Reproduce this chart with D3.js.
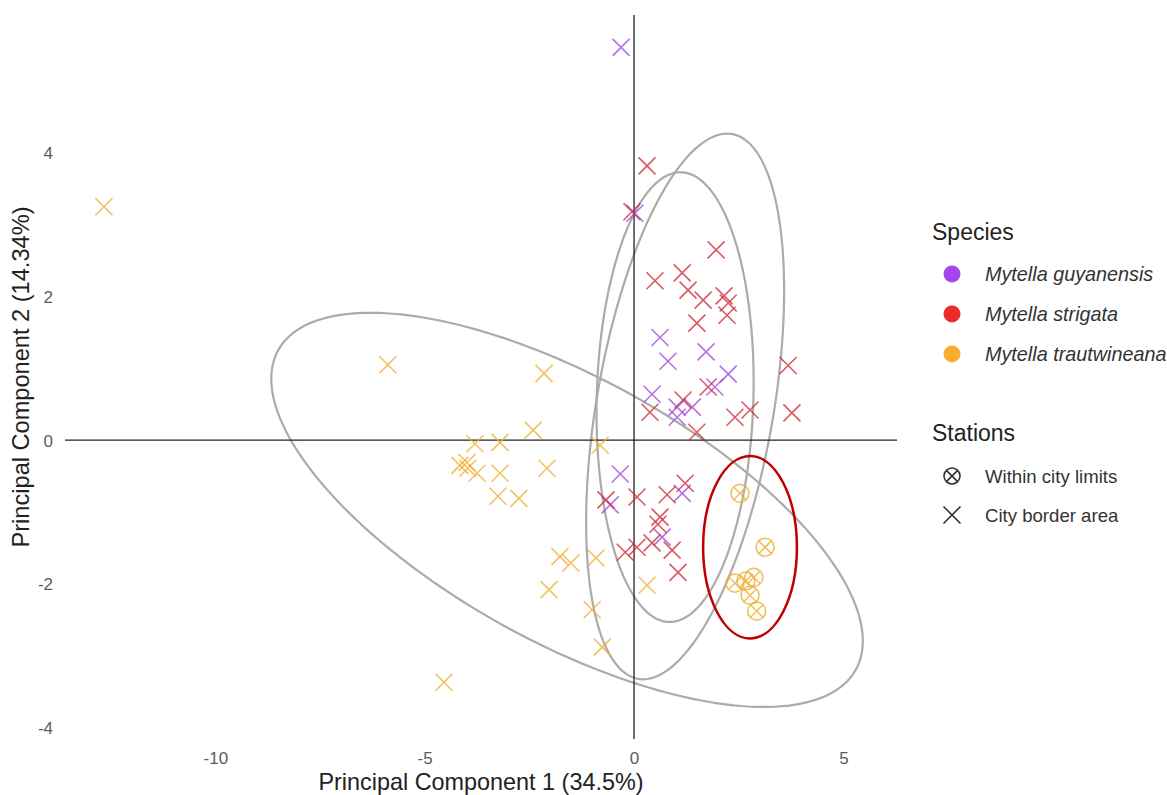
<!DOCTYPE html>
<html>
<head>
<meta charset="utf-8">
<script src="https://cdn.jsdelivr.net/npm/d3@7"></script>
<style>
  html, body { margin: 0; padding: 0; background: #fff; }
  svg { display: block; font-family: "Liberation Sans", Arial, sans-serif; }
</style>
</head>
<body>
<svg id="chart" width="1167" height="795"></svg>
<script>
// PCA scores (PC1, PC2) per specimen
const guyanensisPC1 = [-0.31, 0.02, 0.62, 0.81, 1.72, 2.25, 1.93, 0.43, 1.03, 1.39, 1.03, -0.33, -0.57, 1.15, 0.67];
const guyanensisPC2 = [5.47, 3.16, 1.43, 1.10, 1.23, 0.92, 0.74, 0.64, 0.46, 0.46, 0.32, -0.47, -0.90, -0.74, -1.35];

const strigataPC1 = [0.31, -0.05, 1.96, 0.50, 1.15, 1.29, 1.65, 2.15, 2.25, 2.22, 1.50, 3.68, 1.77, 1.17, 0.38, 2.77, 2.41, 3.77, 1.50,
                     -0.67, 0.07, 0.79, 1.22, 0.62, 0.57, -0.21, 0.07, 0.43, 0.91, 1.05];
const strigataPC2 = [3.82, 3.18, 2.65, 2.22, 2.33, 2.09, 1.95, 2.01, 1.91, 1.74, 1.63, 1.04, 0.74, 0.56, 0.39, 0.42, 0.32, 0.38, 0.11,
                     -0.83, -0.79, -0.76, -0.60, -1.07, -1.17, -1.56, -1.49, -1.43, -1.53, -1.84];

const trautBorderPC1 = [-12.66, -5.88, -2.15, -2.41, -3.80, -3.20, -0.81, -4.16, -3.99, -3.97, -3.75, -3.20, -2.08, -3.25, -2.75,
                        -1.77, -1.51, -0.91, -2.03, -1.00, -0.76, 0.31, -4.54];
const trautBorderPC2 = [3.25, 1.05, 0.93, 0.14, -0.05, -0.03, -0.07, -0.35, -0.31, -0.39, -0.46, -0.46, -0.39, -0.78, -0.81,
                        -1.62, -1.71, -1.64, -2.08, -2.36, -2.88, -2.02, -3.37];
const trautCityPC1 = [2.53, 3.13, 2.41, 2.67, 2.86, 2.77, 2.93];
const trautCityPC2 = [-0.74, -1.49, -1.99, -1.96, -1.91, -2.16, -2.38];

const speciesNames = ["Mytella guyanensis", "Mytella strigata", "Mytella trautwineana"];
const speciesColors = ["#A646EA", "#EE2B2B", "#F8AD2C"];
const markColors = ["#A24FDE", "#D12F3C", "#F0B136"];
const stationNames = ["Within city limits", "City border area"];

// confidence ellipses per species: centre and covariance (PC1, PC2)
const ellipseCentreX = [1.22, 0.98, -1.60];
const ellipseCentreY = [0.47, 0.60, -0.97];
const ellipseVarX = [5.59, 3.52, 49.9];
const ellipseVarY = [14.43, 9.80, 7.53];
const ellipseCov = [3.81, 0.40, -12.89];

// highlighted urban group
const highlightCentre = [2.77, -1.49];
const highlightRadii = [1.12, 1.27];

const xTicks = [-10, -5, 0, 5];
const yTicks = [-4, -2, 0, 2, 4];

const svg = d3.select("#chart");
const x = d3.scaleLinear().domain([-13.59, 6.28]).range([65, 897]);
const y = d3.scaleLinear().domain([-4.16, 5.92]).range([739, 15]);

const tickFmt = d => String(d);

// axes (labels only)
const gx = svg.append("g").attr("transform", "translate(0,739)")
  .call(d3.axisBottom(x).tickValues(xTicks).tickSize(0).tickPadding(13).tickFormat(tickFmt));
const gy = svg.append("g").attr("transform", "translate(55,0)")
  .call(d3.axisLeft(y).tickValues(yTicks).tickSize(0).tickPadding(2).tickFormat(tickFmt));
[gx, gy].forEach(g => {
  g.select(".domain").remove();
  g.selectAll("text").attr("fill", "#5c5c5c").attr("font-size", 17)
    .attr("font-family", "Liberation Sans, Arial, sans-serif");
});
gy.selectAll("text").attr("dy", "0.35em");

// ellipses
const ellipseLine = d3.line().curve(d3.curveLinearClosed);
for (let i = 0; i < ellipseCentreX.length; i++) {
  const a = Math.sqrt(ellipseVarX[i]);
  const b = ellipseCov[i] / a;
  const c = Math.sqrt(ellipseVarY[i] - b * b);
  const pts = d3.range(0, 200).map(k => {
    const t = 2 * Math.PI * k / 200;
    const u = Math.cos(t), v = Math.sin(t);
    return [x(ellipseCentreX[i] + a * u), y(ellipseCentreY[i] + b * u + c * v)];
  });
  svg.append("path").attr("d", ellipseLine(pts))
    .attr("fill", "none").attr("stroke", "#ababab").attr("stroke-width", 2.2);
}

// zero lines
svg.append("line").attr("x1", x.range()[0]).attr("x2", x.range()[1])
  .attr("y1", y(0)).attr("y2", y(0)).attr("stroke", "#222").attr("stroke-width", 1.3);
svg.append("line").attr("x1", x(0)).attr("x2", x(0))
  .attr("y1", y.range()[1]).attr("y2", y.range()[0]).attr("stroke", "#222").attr("stroke-width", 1.3);

// markers
function crossPath(s) {
  return `M${-s},${-s}L${s},${s}M${-s},${s}L${s},${-s}`;
}
function drawCross(g, cx, cy, color, s, op) {
  g.append("path").attr("transform", `translate(${cx},${cy})`).attr("d", crossPath(s))
    .attr("stroke", color).attr("stroke-width", 1.6).attr("fill", "none").attr("opacity", op);
}
function drawCircleCross(g, cx, cy, color, r, op) {
  const m = g.append("g").attr("transform", `translate(${cx},${cy})`).attr("opacity", op);
  m.append("circle").attr("r", r).attr("fill", "none").attr("stroke", color).attr("stroke-width", 1.6);
  m.append("path").attr("d", crossPath(r * 0.707)).attr("stroke", color).attr("stroke-width", 1.6);
}

const pts = svg.append("g");
const groups = [
  [guyanensisPC1, guyanensisPC2, 0],
  [strigataPC1, strigataPC2, 1],
  [trautBorderPC1, trautBorderPC2, 2]
];
groups.forEach(([px, py, s]) => {
  px.forEach((v, i) => drawCross(pts, x(v), y(py[i]), markColors[s], 8.5, 0.8));
});
trautCityPC1.forEach((v, i) => drawCircleCross(pts, x(v), y(trautCityPC2[i]), markColors[2], 9, 0.8));

// highlight ring
svg.append("ellipse")
  .attr("cx", x(highlightCentre[0])).attr("cy", y(highlightCentre[1]))
  .attr("rx", x(highlightCentre[0] + highlightRadii[0]) - x(highlightCentre[0]))
  .attr("ry", y(highlightCentre[1]) - y(highlightCentre[1] + highlightRadii[1]))
  .attr("fill", "none").attr("stroke", "#C00000").attr("stroke-width", 2.5);

// axis titles
svg.append("text").attr("x", (x.range()[0] + x.range()[1]) / 2).attr("y", 790)
  .attr("text-anchor", "middle").attr("font-size", 23.4).attr("fill", "#222")
  .text("Principal Component 1 (34.5%)");
svg.append("text").attr("transform", `translate(29,${(y.range()[0] + y.range()[1]) / 2}) rotate(-90)`)
  .attr("text-anchor", "middle").attr("font-size", 23.6).attr("fill", "#222")
  .text("Principal Component 2 (14.34%)");

// legend
const lg = svg.append("g");
lg.append("text").attr("x", 932).attr("y", 240).attr("font-size", 23).attr("fill", "#222").text("Species");
speciesNames.forEach((n, i) => {
  const cy = 274 + i * 40;
  lg.append("circle").attr("cx", 952).attr("cy", cy).attr("r", 8.5).attr("fill", speciesColors[i]);
  lg.append("text").attr("x", 985).attr("y", cy + 7).attr("font-size", 19.8)
    .attr("font-style", "italic").attr("fill", "#333").text(n);
});
lg.append("text").attr("x", 932).attr("y", 441).attr("font-size", 23).attr("fill", "#222").text("Stations");
drawCircleCross(lg, 952, 476, "#333", 8, 1);
drawCross(lg, 952, 515, "#333", 8.5, 1);
stationNames.forEach((n, i) => {
  lg.append("text").attr("x", 985).attr("y", 476 + i * 39 + 7).attr("font-size", 18.6)
    .attr("fill", "#333").text(n);
});
</script>
</body>
</html>
